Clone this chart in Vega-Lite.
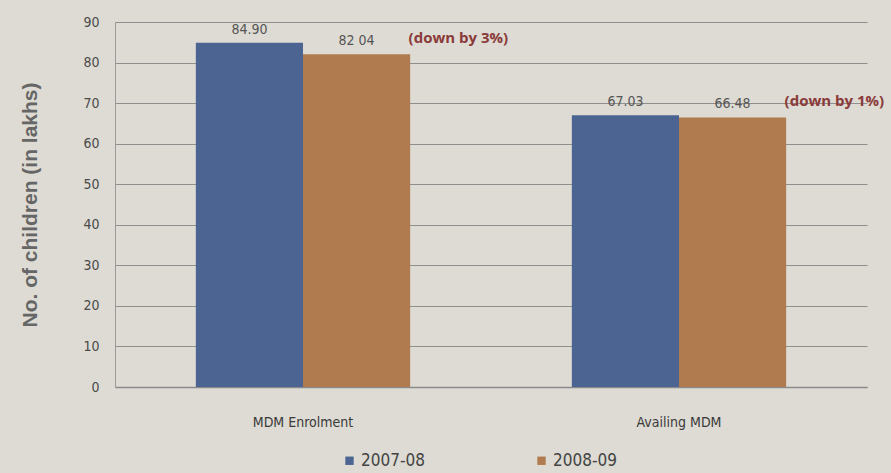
{
  "$schema": "https://vega.github.io/schema/vega-lite/v6.json",
  "width": 752,
  "height": 365,
  "autosize": {"type": "none"},
  "padding": {"left": 115, "top": 22, "right": 24, "bottom": 86},
  "background": "#dddbd3",
  "config": {
    "view": {"stroke": null},
    "font": "DejaVu Sans Condensed"
  },
  "datasets": {
    "bars": [
      {"category": "MDM Enrolment", "year": "2007-08", "value": 84.90, "label": "84.90"},
      {"category": "MDM Enrolment", "year": "2008-09", "value": 82.04, "label": "82 04"},
      {"category": "Availing MDM", "year": "2007-08", "value": 67.03, "label": "67.03"},
      {"category": "Availing MDM", "year": "2008-09", "value": 66.48, "label": "66.48"}
    ],
    "notes": [
      {"category": "MDM Enrolment", "year": "2008-09", "value": 82.04, "note": "(down by 3%)"},
      {"category": "Availing MDM", "year": "2008-09", "value": 66.48, "note": "(down by 1%)"}
    ]
  },
  "layer": [
    {
      "data": {"name": "bars"},
      "mark": {"type": "bar"},
      "encoding": {
        "x": {
          "field": "category", "type": "nominal",
          "sort": ["MDM Enrolment", "Availing MDM"],
          "scale": {"paddingInner": 0.43, "paddingOuter": 0.215},
          "axis": {
            "title": null, "labelAngle": 0, "labelFontSize": 14, "labelColor": "#3a3a3a",
            "labelPadding": 28, "ticks": false, "domainColor": "#8a8a8a", "domainWidth": 1.5
          }
        },
        "xOffset": {"field": "year", "type": "nominal", "sort": ["2007-08", "2008-09"]},
        "y": {
          "field": "value", "type": "quantitative",
          "scale": {"domain": [0, 90]},
          "axis": {
            "values": [0, 10, 20, 30, 40, 50, 60, 70, 80, 90],
            "title": "No. of children (in lakhs)",
            "titleFont": "Liberation Sans",
            "titleFontSize": 21, "titleFontWeight": "bold", "titleColor": "#666666",
            "titlePadding": 42,
            "labelFontSize": 14, "labelColor": "#4a4a4a", "labelPadding": 16,
            "ticks": false, "domainColor": "#9a9a9a",
            "gridColor": "#8f8f8f", "gridWidth": 1.2
          }
        },
        "color": {
          "field": "year", "type": "nominal",
          "scale": {"domain": ["2007-08", "2008-09"], "range": ["#4b6491", "#b07b4e"]},
          "legend": {
            "title": null, "orient": "none", "direction": "horizontal",
            "legendX": 226, "legendY": 430,
            "symbolType": "square", "symbolSize": 70,
            "labelFontSize": 17, "labelColor": "#444444",
            "columnPadding": 108, "labelOffset": 3
          }
        }
      }
    },
    {
      "data": {"name": "bars"},
      "mark": {"type": "text", "baseline": "bottom", "dy": -6, "fontSize": 14, "color": "#555555"},
      "encoding": {
        "x": {"field": "category", "type": "nominal", "sort": ["MDM Enrolment", "Availing MDM"]},
        "xOffset": {"field": "year", "type": "nominal", "sort": ["2007-08", "2008-09"]},
        "y": {"field": "value", "type": "quantitative"},
        "text": {"field": "label"}
      }
    },
    {
      "data": {"name": "notes"},
      "mark": {"type": "text", "baseline": "bottom", "align": "left", "dx": 52, "dy": -8, "fontSize": 15, "fontWeight": "bold", "font": "Open Sans", "color": "#8b3a3a"},
      "encoding": {
        "x": {"field": "category", "type": "nominal", "sort": ["MDM Enrolment", "Availing MDM"]},
        "xOffset": {"field": "year", "type": "nominal", "sort": ["2007-08", "2008-09"]},
        "y": {"field": "value", "type": "quantitative"},
        "text": {"field": "note"}
      }
    }
  ]
}
